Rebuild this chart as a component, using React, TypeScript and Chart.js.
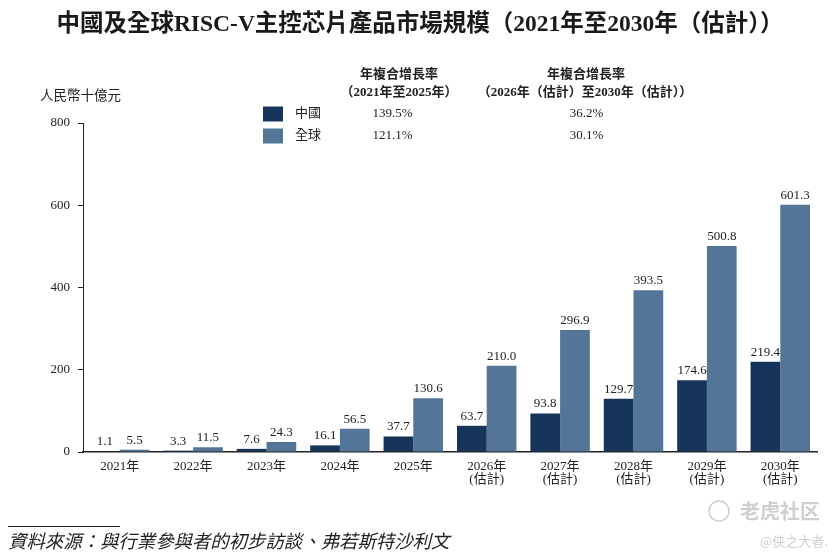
import React, { useEffect, useRef } from "react";
import { Chart, registerables } from "chart.js";

Chart.register(...registerables);

const categories: string[][] = [
  ["2021年"],
  ["2022年"],
  ["2023年"],
  ["2024年"],
  ["2025年"],
  ["2026年", "(估計)"],
  ["2027年", "(估計)"],
  ["2028年", "(估計)"],
  ["2029年", "(估計)"],
  ["2030年", "(估計)"],
];
const chinaValues = [1.1, 3.3, 7.6, 16.1, 37.7, 63.7, 93.8, 129.7, 174.6, 219.4];
const globalValues = [5.5, 11.5, 24.3, 56.5, 130.6, 210.0, 296.9, 393.5, 500.8, 601.3];
const seriesNames = ["中國", "全球"];
const cagrFirst = ["139.5%", "121.1%"];
const cagrSecond = ["36.2%", "30.1%"];
const yTicks = [0, 200, 400, 600, 800];

const TITLE = "中國及全球RISC-V主控芯片產品市場規模（2021年至2030年（估計））";
const UNIT = "人民幣十億元";
const SOURCE = "資料來源：與行業參與者的初步訪談、弗若斯特沙利文";
const HEAD1 = ["年複合增長率", "（2021年至2025年）"];
const HEAD2 = ["年複合增長率", "（2026年（估計）至2030年（估計））"];

const CHINA_COLOR = "#17345b";
const GLOBAL_COLOR = "#527598";
const FONT = '"Liberation Serif", "Noto Sans CJK TC", serif';
const TEXT = "#222222";

const labelsPlugin = {
  id: "valueLabels",
  afterDatasetsDraw(chart: any) {
    const ctx = chart.ctx;
    ctx.save();
    ctx.font = `13px ${FONT}`;
    ctx.fillStyle = TEXT;
    ctx.textAlign = "center";
    ctx.textBaseline = "bottom";
    chart.data.datasets.forEach((ds: any, di: number) => {
      const meta = chart.getDatasetMeta(di);
      meta.data.forEach((bar: any, i: number) => {
        ctx.fillText(Number(ds.data[i]).toFixed(1), bar.x, bar.y - 3);
      });
    });
    ctx.restore();
  },
};

const decorPlugin = {
  id: "decor",
  afterDraw(chart: any) {
    const ctx = chart.ctx;
    ctx.save();
    ctx.fillStyle = "#1a1a1a";
    ctx.textBaseline = "middle";
    // title
    ctx.font = `bold 23.5px ${FONT}`;
    ctx.textAlign = "center";
    ctx.fillText(TITLE, 420, 25);
    // unit
    ctx.fillStyle = TEXT;
    ctx.font = `13.5px ${FONT}`;
    ctx.textAlign = "left";
    ctx.fillText(UNIT, 40, 96);
    // legend headers
    ctx.font = `bold 13px ${FONT}`;
    ctx.textAlign = "center";
    ctx.fillText(HEAD1[0], 399, 75);
    ctx.fillText(HEAD1[1], 399, 93);
    ctx.fillText(HEAD2[0], 586, 75);
    ctx.fillText(HEAD2[1], 585, 93);
    // legend rows
    const colors = [CHINA_COLOR, GLOBAL_COLOR];
    const rowsY = [114, 136];
    rowsY.forEach((y, i) => {
      ctx.fillStyle = colors[i];
      ctx.fillRect(263, y - 7.5, 20, 15);
      ctx.fillStyle = TEXT;
      ctx.font = `13px ${FONT}`;
      ctx.textAlign = "left";
      ctx.fillText(seriesNames[i], 295, y);
      ctx.textAlign = "center";
      ctx.fillText(cagrFirst[i], 392.5, y);
      ctx.fillText(cagrSecond[i], 586.5, y);
    });
    // source
    ctx.strokeStyle = "#222";
    ctx.lineWidth = 1;
    ctx.beginPath();
    ctx.moveTo(8, 526.5);
    ctx.lineTo(120, 526.5);
    ctx.stroke();
    ctx.font = `italic 18.4px ${FONT}`;
    ctx.textAlign = "left";
    ctx.fillStyle = TEXT;
    ctx.fillText(SOURCE, 8, 543);
    // watermark
    ctx.fillStyle = "#cfcfcf";
    ctx.strokeStyle = "#cfcfcf";
    ctx.lineWidth = 1.5;
    ctx.beginPath();
    ctx.arc(719, 511, 10, 0, Math.PI * 2);
    ctx.stroke();
    ctx.font = `bold 20px "Noto Sans CJK SC", sans-serif`;
    ctx.textAlign = "left";
    ctx.fillText("老虎社区", 740, 511);
    ctx.font = `13px "Noto Sans CJK SC", sans-serif`;
    ctx.fillText("@侠之大者.", 760, 541);
    ctx.restore();
  },
};

export default function App() {
  const ref = useRef<HTMLCanvasElement | null>(null);
  useEffect(() => {
    if (!ref.current) return;
    const chart = new Chart(ref.current, {
      type: "bar",
      data: {
        labels: categories,
        datasets: [
          {
            label: seriesNames[0],
            data: chinaValues,
            backgroundColor: CHINA_COLOR,
            barPercentage: 1,
            categoryPercentage: 0.81,
          },
          {
            label: seriesNames[1],
            data: globalValues,
            backgroundColor: GLOBAL_COLOR,
            barPercentage: 1,
            categoryPercentage: 0.81,
          },
        ],
      },
      options: {
        animation: false,
        responsive: true,
        maintainAspectRatio: false,
        layout: { padding: { top: 123, right: 23, left: 0, bottom: 0 } },
        plugins: {
          legend: { display: false },
          tooltip: { enabled: false },
          title: { display: false },
        },
        scales: {
          x: {
            grid: { display: true, drawOnChartArea: false, drawTicks: false },
            border: { display: true, color: "#222", width: 1.5 },
            ticks: {
              color: TEXT,
              font: { family: FONT, size: 13, lineHeight: 1.0 },
              padding: 8,
              maxRotation: 0,
              autoSkip: false,
            },
            afterFit: (s: any) => {
              s.height = 560 - 452;
            },
          },
          y: {
            min: 0,
            max: 800,
            afterBuildTicks: (s: any) => {
              s.ticks = yTicks.map((v) => ({ value: v }));
            },
            grid: {
              display: true,
              drawOnChartArea: false,
              drawTicks: true,
              tickLength: 5,
              color: "#222",
            },
            border: { display: true, color: "#222", width: 1 },
            ticks: {
              color: TEXT,
              font: { family: FONT, size: 13 },
              padding: 8,
            },
            afterFit: (s: any) => {
              s.width = 83;
            },
          },
        },
      },
      plugins: [labelsPlugin, decorPlugin],
    });
    return () => chart.destroy();
  }, []);
  return (
    <div
      style={{
        position: "absolute",
        left: 0,
        top: 0,
        width: 840,
        height: 560,
        background: "#ffffff",
      }}
    >
      <canvas ref={ref} />
    </div>
  );
}
